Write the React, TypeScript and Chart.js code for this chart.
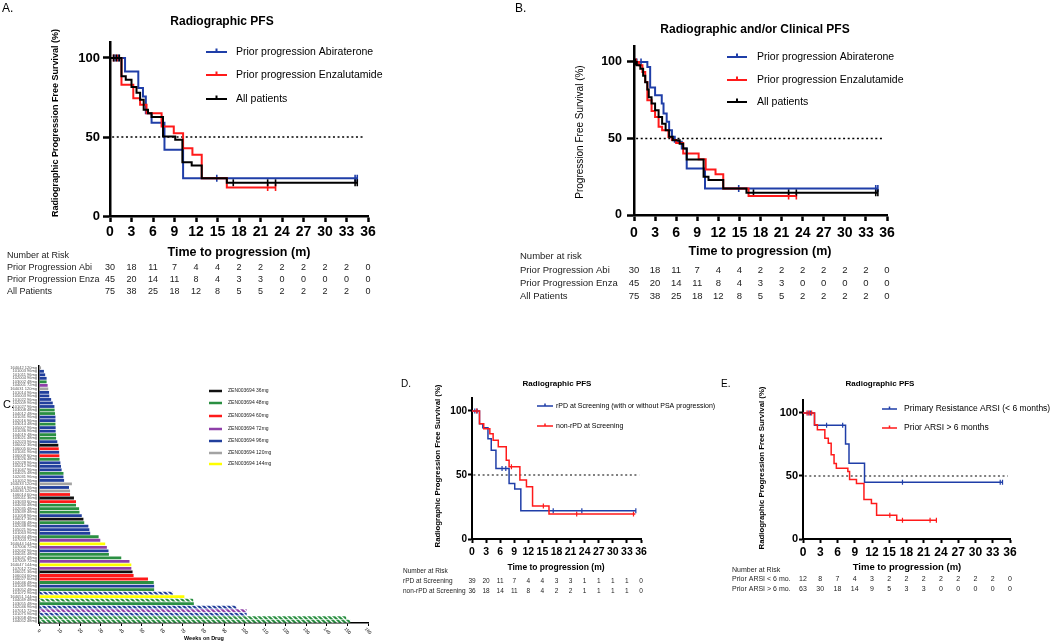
import React, { useEffect, useRef } from "react";
import { Chart, registerables } from "chart.js";
Chart.register(...registerables);

const FONT = "'Liberation Sans', Arial, Helvetica, sans-serif";
const BLUE = "#1f3ea8";
const RED = "#ff1a1a";
const BLACK = "#000000";

// ---------- shared axis ticks ----------
const monthTicks = [0, 3, 6, 9, 12, 15, 18, 21, 24, 27, 30, 33, 36];
const pctTicks = [0, 50, 100];
const weekTicks = [0, 10, 20, 30, 40, 50, 60, 70, 80, 90, 100, 110, 120, 130, 140, 150, 160];

// ---------- Panel A: Radiographic PFS ----------
const aAbiT = [0, 2.1, 3.95, 4.6, 5.0, 5.8, 7.6, 10.2, 34.5];
const aAbiS = [100, 91.5, 81, 75.7, 65, 59, 41.9, 23.9, 23.9];
const aAbiC = [0.7, 1.2, 14.9, 34.2, 34.5];
const aEnzaT = [0, 1.6, 3.25, 4.2, 5.1, 7.2, 8.9, 10.2, 11.5, 12.8, 16.3, 23.1];
const aEnzaS = [100, 83, 74.6, 70.4, 65, 56.7, 52.4, 42.9, 38.7, 23.9, 18, 18];
const aEnzaC = [0.5, 1.0, 22.0, 23.1];
const aAllT = [0, 1.6, 2.2, 3.0, 3.7, 4.2, 4.7, 5.3, 5.8, 7.4, 9.1, 10.1, 11.4, 12.8, 16.3, 34.5];
const aAllS = [100, 88.4, 86.3, 81.6, 78, 73.6, 67.2, 65.1, 62.6, 50.3, 48.2, 34, 32, 23.9, 21.1, 21.1];
const aAllC = [0.5, 0.9, 1.3, 17.2, 22.0, 23.1, 34.2, 34.5];

// ---------- Panel B: Radiographic and/or Clinical PFS ----------
const bAbiT = [0, 1.9, 2.3, 3.0, 3.95, 4.2, 4.65, 5.0, 5.4, 5.8, 6.8, 7.5, 10.1, 34.7];
const bAbiS = [100, 96.7, 83.3, 78.3, 72.8, 66.3, 60.9, 55.4, 51.1, 47.8, 43.5, 30.4, 17.4, 17.4];
const bAbiC = [0.4, 1.0, 14.9, 34.4, 34.7];
const bEnzaT = [0, 0.7, 1.2, 1.6, 1.9, 2.5, 3.0, 3.5, 4.0, 4.9, 5.4, 6.0, 7.0, 9.2, 10.2, 11.6, 12.7, 16.3, 23.1];
const bEnzaS = [100, 97.8, 93.5, 87, 75, 68, 64, 57.6, 55.4, 51, 49, 47, 40.2, 36.5, 29.8, 26.7, 17.4, 12.4, 12.4];
const bEnzaC = [0.3, 22.0, 23.1];
const bAllT = [0, 0.4, 0.9, 1.3, 1.6, 1.9, 2.1, 2.5, 3.0, 3.5, 4.0, 4.5, 5.0, 5.5, 6.5, 7.0, 7.5, 9.9, 10.6, 12.7, 16.0, 34.7];
const bAllS = [100, 97.8, 95.6, 91, 86.8, 82, 77, 72.8, 68.5, 64, 59.7, 55.4, 51.1, 48.9, 46.5, 43.5, 36.3, 25, 22.8, 17.4, 14.6, 14.6];
const bAllC = [0.2, 17.0, 22.0, 23.1, 34.4, 34.7];

const abiRisk = [30, 18, 11, 7, 4, 4, 2, 2, 2, 2, 2, 2, 0];
const enzaRisk = [45, 20, 14, 11, 8, 4, 3, 3, 0, 0, 0, 0, 0];
const allRisk = [75, 38, 25, 18, 12, 8, 5, 5, 2, 2, 2, 2, 0];

// ---------- Panel D ----------
const dRpdT = [0, 1.6, 2.3, 3.4, 4.1, 5.1, 7.9, 9.1, 10.4, 34.9];
const dRpdS = [100, 90.1, 87, 78.4, 69.4, 55, 43.4, 39, 22.1, 22.1];
const dRpdC = [0.6, 1.1, 6.4, 7.2, 17.3, 23.4, 34.9];
const dNonT = [0, 1.6, 2.5, 3.8, 4.5, 5.6, 7.3, 7.9, 10.2, 11.6, 12.9, 16.4, 34.8];
const dNonS = [100, 90.1, 86.2, 82.3, 77.1, 72, 61.6, 56.4, 46, 40.8, 25.7, 19.5, 19.5];
const dNonC = [1.0, 8.4, 15.2, 22.3, 34.4];
const rpdRisk = [39, 20, 11, 7, 4, 4, 3, 3, 1, 1, 1, 1, 0];
const nonRpdRisk = [36, 18, 14, 11, 8, 4, 2, 2, 1, 1, 1, 1, 0];

// ---------- Panel E ----------
const eLtT = [0, 2.0, 7.4, 8.0, 10.7, 34.7];
const eLtS = [100, 90.2, 75.3, 60.1, 45, 45];
const eLtC = [0.9, 1.3, 4.1, 6.9, 17.3, 34.3, 34.7];
const eGtT = [0, 2.0, 2.5, 3.8, 4.4, 4.9, 5.4, 5.8, 7.8, 8.1, 9.3, 10.6, 11.9, 12.8, 16.3, 23.2];
const eGtS = [100, 90.7, 86.7, 80, 76, 66.8, 60, 56.1, 53.5, 47.3, 44.1, 31.4, 28.2, 18.9, 14.9, 14.9];
const eGtC = [0.7, 1.1, 1.5, 15.1, 17.3, 22.1, 23.2];
const lt6Risk = [12, 8, 7, 4, 3, 2, 2, 2, 2, 2, 2, 2, 0];
const gt6Risk = [63, 30, 18, 14, 9, 5, 3, 3, 0, 0, 0, 0, 0];

// ---------- Panel C: swimmer ----------
const patientIds = ["164042","101003","101011","102004","103002","104001","164031","101014","105003","101022","102009","101027","103008","104012","101031","102016","103014","105007","101036","104019","103021","102023","106002","106005","101041","106009","103026","102028","105012","101047","104025","102031","101052","164033","105016","164036","106014","106011","103033","104030","102035","103039","101058","106017","104036","102038","105021","101063","103044","107003","164044","107006","102042","104041","103047","107009","164047","107012","106021","106024","106027","104046","101069","103052","101072","164051","104049","103055","102046","107015","101075","103058","104052"];
const weeksOnDrug = [1,2.4,3,3.7,3.7,4.2,4.5,4.9,5,5.9, 6.7,7.5,7.6,7.8,8,8,8,8.1,8.1,8.3, 8.3,8.9,9.4,9.6,9.8,9.9,10,10.4,10.7,11, 11.9,11.9,12.2,16,14.6,15.1,15.1,17,18,18, 19.5,19.7,20.8,21.6,22,24,24.5,24.9,29,29.8, 32.2,33,33.8,34,40,44,44.9,44.9,45.5,46, 53,55.8,56,56,65.2,70.7,75,75.3,96,101, 101,149.4,151.4];
const doses = [120,96,96,96,48,72,120,96,96,96, 96,96,48,48,96,96,48,96,96,48, 48,96,36,60,96,60,48,96,96,96, 48,96,96,120,96,120,60,36,60,48, 48,48,96,36,48,96,96,96,48,72, 144,72,96,48,48,72,144,72,36,60, 60,48,96,48,96,144,48,48,96,72, 96,48,48];
const ongoingRows = [65, 67, 69, 70, 71, 72, 73];
const doseLevels = [36, 48, 60, 72, 96, 120, 144];
const doseColors: Record<number, string> = { 36: "#111111", 48: "#2a8f42", 60: "#ff1a1a", 72: "#8e3fa8", 96: "#213f9c", 120: "#a3a3a3", 144: "#ffff00" };

type Series = { t: number[]; s: number[]; cens: number[]; color: string; label: string };
type KMCfg = {
  box: { left: number; top: number; width: number; height: number };
  area: { x1: number; x2: number; y0: number; y100: number };
  xAxisH: number; lineW: number; axisW: number; censR: number;
  xTickFont: number; yTickFont: number; xTickPad: number; yTickPad: number; xTickLen: number; yTickLen: number;
  series: Series[];
  letter: { text: string; x: number; y: number; size: number };
  title: { text: string; x: number; y: number; size: number };
  yTitle: { text: string; x: number; y: number; size: number; bold: boolean };
  xTitle: { text: string; x: number; y: number; size: number };
  legend: { x0: number; x1: number; tx: number; ys: number[]; size: number };
  risk: { x: number; header: string; hy: number; ys: number[]; size: number; labels: string[]; rows: number[][] };
};

const panelA: KMCfg = {
  box: { left: 0, top: 0, width: 505, height: 310 },
  area: { x1: 110, x2: 368, y0: 216, y100: 58 },
  xAxisH: 30, lineW: 2, axisW: 2.5, censR: 3.5,
  xTickFont: 14, yTickFont: 13, xTickPad: 2, yTickPad: 3, xTickLen: 6, yTickLen: 7,
  series: [
    { t: aAbiT, s: aAbiS, cens: aAbiC, color: BLUE, label: "Prior progression Abiraterone" },
    { t: aEnzaT, s: aEnzaS, cens: aEnzaC, color: RED, label: "Prior progression Enzalutamide" },
    { t: aAllT, s: aAllS, cens: aAllC, color: BLACK, label: "All patients" },
  ],
  letter: { text: "A.", x: 2, y: 9, size: 12 },
  title: { text: "Radiographic PFS", x: 222, y: 22, size: 12 },
  yTitle: { text: "Radiographic Progression Free Survival (%)", x: 56, y: 123, size: 9, bold: true },
  xTitle: { text: "Time to progression (m)", x: 239, y: 253, size: 12.5 },
  legend: { x0: 206, x1: 227, tx: 236, ys: [52, 75, 99], size: 10.5 },
  risk: { x: 7, header: "Number at Risk", hy: 256, ys: [268, 280, 292], size: 9, labels: ["Prior Progression Abi", "Prior Progression Enza", "All Patients"], rows: [abiRisk, enzaRisk, allRisk] },
};

const panelB: KMCfg = {
  box: { left: 505, top: 0, width: 545, height: 310 },
  area: { x1: 634, x2: 887, y0: 215, y100: 62 },
  xAxisH: 30, lineW: 2, axisW: 2.5, censR: 3.5,
  xTickFont: 14, yTickFont: 12.5, xTickPad: 4, yTickPad: 5, xTickLen: 6, yTickLen: 7,
  series: [
    { t: bAbiT, s: bAbiS, cens: bAbiC, color: BLUE, label: "Prior progression Abiraterone" },
    { t: bEnzaT, s: bEnzaS, cens: bEnzaC, color: RED, label: "Prior progression Enzalutamide" },
    { t: bAllT, s: bAllS, cens: bAllC, color: BLACK, label: "All patients" },
  ],
  letter: { text: "B.", x: 515, y: 9, size: 12 },
  title: { text: "Radiographic and/or Clinical PFS", x: 755, y: 30, size: 12 },
  yTitle: { text: "Progression Free Survival (%)", x: 580, y: 132, size: 10, bold: false },
  xTitle: { text: "Time to progression (m)", x: 760, y: 252, size: 12.5 },
  legend: { x0: 727, x1: 747, tx: 757, ys: [57, 80, 102], size: 10.5 },
  risk: { x: 520, header: "Number at risk", hy: 256, ys: [270, 283, 296], size: 9.5, labels: ["Prior Progression Abi", "Prior Progression Enza", "All Patients"], rows: [abiRisk, enzaRisk, allRisk] },
};

const panelD: KMCfg = {
  box: { left: 398, top: 372, width: 322, height: 230 },
  area: { x1: 472, x2: 641, y0: 539, y100: 411 },
  xAxisH: 22, lineW: 1.5, axisW: 2, censR: 2.5,
  xTickFont: 10.5, yTickFont: 10, xTickPad: 3, yTickPad: 1, xTickLen: 4, yTickLen: 4,
  series: [
    { t: dRpdT, s: dRpdS, cens: dRpdC, color: BLUE, label: "rPD at Screening (with or without PSA progression)" },
    { t: dNonT, s: dNonS, cens: dNonC, color: RED, label: "non-rPD at Screening" },
  ],
  letter: { text: "D.", x: 401, y: 384, size: 10 },
  title: { text: "Radiographic PFS", x: 557, y: 384, size: 8 },
  yTitle: { text: "Radiographic Progression Free Survival (%)", x: 438, y: 466, size: 7.8, bold: true },
  xTitle: { text: "Time to progression (m)", x: 556, y: 568, size: 8.5 },
  legend: { x0: 537, x1: 553, tx: 556, ys: [406, 426], size: 7 },
  risk: { x: 403, header: "Number at Risk", hy: 571, ys: [581, 591], size: 6.5, labels: ["rPD at Screening", "non-rPD at Screening"], rows: [rpdRisk, nonRpdRisk] },
};

const panelE: KMCfg = {
  box: { left: 720, top: 372, width: 330, height: 230 },
  area: { x1: 803, x2: 1010, y0: 539, y100: 413 },
  xAxisH: 22, lineW: 1.5, axisW: 2, censR: 2.5,
  xTickFont: 12, yTickFont: 11, xTickPad: 2.5, yTickPad: 1, xTickLen: 4, yTickLen: 4,
  series: [
    { t: eLtT, s: eLtS, cens: eLtC, color: BLUE, label: "Primary Resistance ARSI (< 6 months)" },
    { t: eGtT, s: eGtS, cens: eGtC, color: RED, label: "Prior ARSI > 6 months" },
  ],
  letter: { text: "E.", x: 721, y: 384, size: 10 },
  title: { text: "Radiographic PFS", x: 880, y: 384, size: 8 },
  yTitle: { text: "Radiographic Progression Free Survival (%)", x: 762, y: 468, size: 7.8, bold: true },
  xTitle: { text: "Time to progression (m)", x: 907, y: 567, size: 9.5 },
  legend: { x0: 882, x1: 897, tx: 904, ys: [409, 428], size: 8.5 },
  risk: { x: 732, header: "Number at Risk", hy: 570, ys: [579, 589], size: 7, labels: ["Prior ARSI < 6 mo.", "Prior ARSI > 6 mo."], rows: [lt6Risk, gt6Risk] },
};

function levelAt(t: number[], s: number[], x: number) {
  let v = s[0];
  for (let i = 0; i < t.length; i++) if (t[i] <= x) v = s[i];
  return v;
}
const fnt = (size: number, bold: boolean) => `${bold ? "bold " : ""}${size}px ${FONT}`;

function buildKM(c: KMCfg): any {
  const L = c.box.left, T = c.box.top;
  const ppu = (c.area.y0 - c.area.y100) / 100;
  const yTop = c.area.y0 - 110 * ppu;
  const padTop = yTop - T;
  const yW = c.area.x1 - L;
  const padRight = L + c.box.width - c.area.x2;
  const padBottom = T + c.box.height - (c.area.y0 + c.xAxisH);
  const datasets: any[] = [];
  const drawSeries = [...c.series].reverse();
  drawSeries.forEach((se) => {
    datasets.push({
      data: se.t.map((x, i) => ({ x, y: se.s[i] })),
      borderColor: se.color, borderWidth: c.lineW, stepped: "before", pointRadius: 0, fill: false,
    });
  });
  drawSeries.forEach((se) => {
    datasets.push({
      data: se.cens.map((x) => ({ x, y: levelAt(se.t, se.s, x) })),
      showLine: false, pointStyle: "line", pointRotation: 90, pointRadius: c.censR,
      pointBorderColor: se.color, pointBorderWidth: c.lineW * 0.8, borderColor: se.color,
    });
  });
  datasets.push({
    data: [{ x: 0.3, y: 50 }, { x: 35.6, y: 50 }],
    borderColor: "#000", borderWidth: c.lineW * 0.8, borderDash: [2, 2.6], pointRadius: 0, fill: false,
  });

  const axisCommon = (tickLen: number) => ({
    grid: { drawOnChartArea: false, drawTicks: true, tickLength: tickLen, tickWidth: c.axisW, tickColor: "#000" },
    border: { display: true, color: "#000", width: c.axisW },
  });

  const annot = {
    id: "annot",
    afterDraw(chart: any) {
      const ctx = chart.ctx as CanvasRenderingContext2D;
      ctx.save();
      ctx.fillStyle = "#000";
      ctx.textBaseline = "middle";
      ctx.font = fnt(c.letter.size, false);
      ctx.textAlign = "left";
      ctx.fillText(c.letter.text, c.letter.x - L, c.letter.y - T);
      ctx.font = fnt(c.title.size, true);
      ctx.textAlign = "center";
      ctx.fillText(c.title.text, c.title.x - L, c.title.y - T);
      ctx.font = fnt(c.xTitle.size, true);
      ctx.fillText(c.xTitle.text, c.xTitle.x - L, c.xTitle.y - T);
      ctx.save();
      ctx.translate(c.yTitle.x - L, c.yTitle.y - T);
      ctx.rotate(-Math.PI / 2);
      ctx.font = fnt(c.yTitle.size, c.yTitle.bold);
      ctx.fillText(c.yTitle.text, 0, 0);
      ctx.restore();
      // legend
      c.series.forEach((se, i) => {
        const y = c.legend.ys[i] - T;
        ctx.strokeStyle = se.color;
        ctx.lineWidth = c.lineW;
        ctx.beginPath();
        ctx.moveTo(c.legend.x0 - L, y);
        ctx.lineTo(c.legend.x1 - L, y);
        const mx = (c.legend.x0 + c.legend.x1) / 2 - L;
        ctx.moveTo(mx, y - c.censR);
        ctx.lineTo(mx, y);
        ctx.stroke();
        ctx.fillStyle = "#000";
        ctx.font = fnt(c.legend.size, false);
        ctx.textAlign = "left";
        ctx.fillText(se.label, c.legend.tx - L, y);
      });
      // risk table
      const xs = chart.scales.x;
      ctx.fillStyle = "#222";
      ctx.font = fnt(c.risk.size, false);
      ctx.textAlign = "left";
      ctx.fillText(c.risk.header, c.risk.x - L, c.risk.hy - T);
      c.risk.labels.forEach((lab, i) => {
        const y = c.risk.ys[i] - T;
        ctx.textAlign = "left";
        ctx.fillText(lab, c.risk.x - L, y);
        ctx.textAlign = "center";
        c.risk.rows[i].forEach((v, j) => {
          ctx.fillText(String(v), xs.getPixelForValue(monthTicks[j]), y);
        });
      });
      ctx.restore();
    },
  };

  return {
    type: "line",
    data: { datasets },
    options: {
      responsive: false,
      animation: false,
      events: [],
      layout: { padding: { left: 0, top: padTop, right: padRight, bottom: padBottom } },
      plugins: { legend: { display: false }, tooltip: { enabled: false } },
      scales: {
        x: {
          type: "linear", min: 0, max: 36,
          afterBuildTicks: (s: any) => { s.ticks = monthTicks.map((v) => ({ value: v })); },
          afterFit: (s: any) => { s.height = c.xAxisH; },
          ticks: { autoSkip: false, maxRotation: 0, minRotation: 0, padding: c.xTickPad, color: "#000", font: { family: FONT, size: c.xTickFont, weight: "bold" } },
          ...axisCommon(c.xTickLen),
        },
        y: {
          type: "linear", min: 0, max: 110,
          afterBuildTicks: (s: any) => { s.ticks = pctTicks.map((v) => ({ value: v })); },
          afterFit: (s: any) => { s.width = yW; },
          ticks: { padding: c.yTickPad, color: "#000", font: { family: FONT, size: c.yTickFont, weight: "bold" } },
          ...axisCommon(c.yTickLen),
        },
      },
    },
    plugins: [annot],
  };
}

function makeHatch(color: string): CanvasPattern | string {
  const cv = document.createElement("canvas");
  cv.width = 5; cv.height = 5;
  const g = cv.getContext("2d");
  if (!g) return color;
  g.fillStyle = color;
  g.fillRect(0, 0, 5, 5);
  g.strokeStyle = "#ffffff";
  g.lineWidth = 1.3;
  g.beginPath();
  g.moveTo(-1, -1); g.lineTo(6, 6);
  g.moveTo(4, -1); g.lineTo(6, 1);
  g.moveTo(-1, 4); g.lineTo(1, 6);
  g.stroke();
  return g.createPattern(cv, "repeat") || color;
}

const swimBox = { left: 0, top: 360, width: 398, height: 282 };

function buildSwimmer(): any {
  const L = swimBox.left, T = swimBox.top;
  const labels = patientIds.map((id, i) => `${id} ${doses[i]}mg`);
  const colors = doses.map((d, i) => (ongoingRows.includes(i + 1) ? makeHatch(doseColors[d]) : doseColors[d]));
  const annot = {
    id: "swimannot",
    afterDraw(chart: any) {
      const ctx = chart.ctx as CanvasRenderingContext2D;
      const xs = chart.scales.x;
      const base = chart.chartArea.bottom;
      ctx.save();
      ctx.fillStyle = "#000";
      ctx.textBaseline = "middle";
      ctx.font = fnt(11, false);
      ctx.textAlign = "left";
      ctx.fillText("C.", 3 - L, 405 - T);
      // rotated tick labels
      ctx.font = fnt(4.5, false);
      ctx.textAlign = "center";
      weekTicks.forEach((v) => {
        ctx.save();
        ctx.translate(xs.getPixelForValue(v), base + 8);
        ctx.rotate(Math.PI / 4);
        ctx.fillText(String(v), 0, 0);
        ctx.restore();
      });
      ctx.font = fnt(5.5, true);
      ctx.fillText("Weeks on Drug", 204 - L, 638 - T);
      // legend
      const lys = [391, 403, 416, 429, 441, 453, 464];
      doseLevels.forEach((d, i) => {
        const y = lys[i] - T;
        ctx.strokeStyle = doseColors[d];
        ctx.lineWidth = 2.5;
        ctx.beginPath();
        ctx.moveTo(209 - L, y);
        ctx.lineTo(222 - L, y);
        ctx.stroke();
        ctx.fillStyle = "#222";
        ctx.font = fnt(5, false);
        ctx.textAlign = "left";
        ctx.fillText(`ZEN003694 ${d}mg`, 228 - L, y);
      });
      ctx.restore();
    },
  };
  return {
    type: "bar",
    data: {
      labels,
      datasets: [{ data: weeksOnDrug, backgroundColor: colors, borderWidth: 0, barPercentage: 0.8, categoryPercentage: 1 }],
    },
    options: {
      indexAxis: "y",
      responsive: false,
      animation: false,
      events: [],
      layout: { padding: { left: 0, top: 366 - T, right: L + swimBox.width - 368, bottom: T + swimBox.height - 623 - 14 } },
      plugins: { legend: { display: false }, tooltip: { enabled: false } },
      scales: {
        x: {
          type: "linear", min: 0, max: 160,
          afterBuildTicks: (s: any) => { s.ticks = weekTicks.map((v) => ({ value: v })); },
          afterFit: (s: any) => { s.height = 14; },
          ticks: { display: false },
          grid: { drawOnChartArea: false, drawTicks: true, tickLength: 3, tickWidth: 1, tickColor: "#000" },
          border: { display: true, color: "#000", width: 1.5 },
        },
        y: {
          afterFit: (s: any) => { s.width = 39 - L; },
          ticks: { autoSkip: false, padding: 2, color: "#555", font: { family: FONT, size: 4 } },
          grid: { drawOnChartArea: false, drawTicks: false },
          border: { display: true, color: "#000", width: 1.5 },
        },
      },
    },
    plugins: [annot],
  };
}

function ChartCanvas({ box, build }: { box: { left: number; top: number; width: number; height: number }; build: () => any }) {
  const ref = useRef<HTMLCanvasElement>(null);
  useEffect(() => {
    if (!ref.current) return;
    const chart = new Chart(ref.current, build());
    return () => chart.destroy();
  }, []);
  return (
    <canvas
      ref={ref}
      width={box.width}
      height={box.height}
      style={{ position: "absolute", left: box.left, top: box.top, width: box.width, height: box.height }}
    />
  );
}

export default function App() {
  return (
    <div style={{ position: "absolute", left: 0, top: 0, width: 1050, height: 642, background: "#fff", overflow: "hidden" }}>
      <ChartCanvas box={panelA.box} build={() => buildKM(panelA)} />
      <ChartCanvas box={panelB.box} build={() => buildKM(panelB)} />
      <ChartCanvas box={swimBox} build={buildSwimmer} />
      <ChartCanvas box={panelD.box} build={() => buildKM(panelD)} />
      <ChartCanvas box={panelE.box} build={() => buildKM(panelE)} />
    </div>
  );
}
